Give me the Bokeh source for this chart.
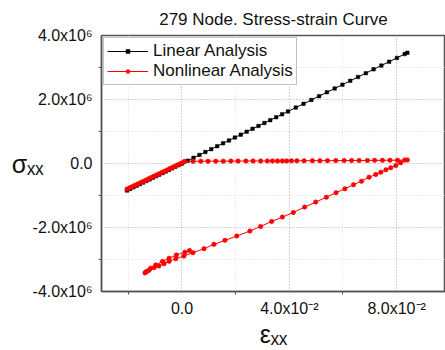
from bokeh.plotting import figure
from bokeh.models import Range1d, FixedTicker, Legend, LegendItem, LinearAxis
from bokeh.embed import file_html
from bokeh.resources import INLINE

# ---- data (strain, stress in units of 1e6) ----
lin_strain = [-0.0205, -0.0193, -0.0181, -0.0169, -0.0157, -0.0145, -0.0133, -0.0121,
              -0.0109, -0.0097, -0.0085, -0.0073, -0.0061, -0.0049, -0.0037, -0.0025,
              -0.0013, -0.0001, 0.0021, 0.0043, 0.0065, 0.0087, 0.0109, 0.0131, 0.0153,
              0.0175, 0.0197, 0.0219, 0.0241, 0.0263, 0.0285, 0.0307, 0.0329, 0.0351,
              0.0373, 0.0395, 0.0424, 0.0453, 0.0482, 0.0511, 0.0540, 0.0569, 0.0598,
              0.0627, 0.0656, 0.0685, 0.0714, 0.0743, 0.0772, 0.0801, 0.0830, 0.0840]
lin_stress_e6 = [-0.845, -0.795, -0.746, -0.696, -0.647, -0.597, -0.548, -0.499,
                 -0.449, -0.400, -0.350, -0.301, -0.251, -0.202, -0.152, -0.103,
                 -0.054, -0.004, 0.087, 0.177, 0.268, 0.358, 0.449, 0.540, 0.630,
                 0.721, 0.812, 0.902, 0.993, 1.084, 1.174, 1.265, 1.355, 1.446,
                 1.537, 1.627, 1.747, 1.866, 1.986, 2.105, 2.225, 2.344, 2.464,
                 2.583, 2.703, 2.822, 2.942, 3.061, 3.181, 3.300, 3.420, 3.461]

non_strain = [
    # initial elastic branch
    -0.0205, -0.0195, -0.0185, -0.0175, -0.0165, -0.0155, -0.0145, -0.0135, -0.0125,
    -0.0115, -0.0105, -0.0095, -0.0085, -0.0075, -0.0065, -0.0055, -0.0045, -0.0035,
    -0.0025, -0.0015, -0.0005, 0.0005,
    # plateau
    0.0010, 0.0041, 0.0070, 0.0097, 0.0126, 0.0154, 0.0182, 0.0209, 0.0238, 0.0265,
    0.0293, 0.0318, 0.0337, 0.0356, 0.0374, 0.0390, 0.0408, 0.0428, 0.0455, 0.0486,
    0.0514, 0.0542, 0.0573, 0.0604, 0.0632, 0.0660, 0.0691, 0.0718, 0.0747, 0.0775,
    0.0803, 0.0830,
    # unloading
    0.0840, 0.0815, 0.0797, 0.0778, 0.0760, 0.0741, 0.0722, 0.0697, 0.0669, 0.0639,
    0.0607, 0.0574, 0.0538, 0.0498, 0.0457, 0.0415, 0.0374, 0.0334, 0.0293, 0.0253,
    0.0204, 0.0160, 0.0119, 0.0082, 0.0041, 0.0007, -0.0023, -0.0048, -0.0067,
    -0.0086, -0.0104, -0.0123, -0.0135, -0.0138,
    # reloading
    -0.0130, -0.0117, -0.0098, -0.0073, -0.0048, -0.0021, 0.0011, 0.0028]
non_stress_e6 = [
    -0.800, -0.760, -0.720, -0.680, -0.640, -0.600, -0.560, -0.520, -0.480,
    -0.440, -0.400, -0.360, -0.320, -0.280, -0.240, -0.200, -0.160, -0.120,
    -0.080, -0.040, 0.000, 0.040,
    0.065, 0.068, 0.070, 0.072, 0.073, 0.074, 0.075, 0.076, 0.077, 0.078,
    0.079, 0.080, 0.081, 0.081, 0.082, 0.082, 0.083, 0.084, 0.085, 0.086,
    0.087, 0.088, 0.090, 0.091, 0.093, 0.094, 0.096, 0.098, 0.100, 0.102,
    0.104, 0.107,
    0.112, 0.022, -0.062, -0.134, -0.197, -0.271, -0.343, -0.427, -0.552, -0.665,
    -0.789, -0.914, -1.051, -1.207, -1.363, -1.529, -1.675, -1.810, -1.966, -2.112,
    -2.268, -2.402, -2.527, -2.661, -2.786, -2.892, -2.973, -3.058, -3.129,
    -3.204, -3.255, -3.339, -3.392, -3.420,
    -3.370, -3.270, -3.170, -3.060, -2.960, -2.860, -2.770, -2.720]

lin_stress = [v * 1e6 for v in lin_stress_e6]
non_stress = [v * 1e6 for v in non_stress_e6]

x_ticks = [0.0, 0.04, 0.08]
x_minor = [-0.02, 0.02, 0.06]
x_labels = ["0.0", "4.0x10\u207b\u00b2", "8.0x10\u207b\u00b2"]
y_ticks = [-4e6, -2e6, 0.0, 2e6, 4e6]
y_minor = [-3e6, -1e6, 1e6, 3e6]
y_labels = ["-4.0x10\u2076", "-2.0x10\u2076", "0.0", "2.0x10\u2076", "4.0x10\u2076"]
x_title = "\u03b5\u2093\u2093"
y_title = "\u03c3\u2093\u2093"

FONT = "Liberation Sans"
AX = "#555555"
TXT = "#111111"

p = figure(width=445, height=350, output_backend="svg", toolbar_location=None,
           x_range=Range1d(-0.03, 0.0982), y_range=Range1d(-4e6, 4e6),
           min_border_left=101, min_border_right=0, min_border_top=35,
           min_border_bottom=59, title="279 Node. Stress-strain Curve")
p.title.text_font = FONT
p.title.text_font_size = "17px"
p.title.text_font_style = "normal"
p.title.align = "center"
p.title.text_color = TXT
p.title.standoff = 14

p.outline_line_color = AX
p.outline_line_width = 1.5
p.background_fill_color = "white"
p.border_fill_color = "white"

p.xaxis.ticker = FixedTicker(ticks=x_ticks, minor_ticks=x_minor)
p.yaxis.ticker = FixedTicker(ticks=y_ticks, minor_ticks=y_minor)
p.xaxis.major_label_overrides = dict(zip(x_ticks, x_labels))
p.yaxis.major_label_overrides = dict(zip(y_ticks, y_labels))
for ax in (p.xaxis, p.yaxis):
    ax.axis_line_color = AX
    ax.axis_line_width = 1.5
    ax.major_tick_line_color = AX
    ax.minor_tick_line_color = AX
    ax.major_tick_in = 0
    ax.major_tick_out = 0
    ax.minor_tick_in = 0
    ax.minor_tick_out = 3
    ax.major_label_text_font = FONT
    ax.major_label_text_font_size = "16px"
    ax.major_label_text_color = TXT
p.xaxis.major_label_standoff = 5
p.yaxis.major_label_standoff = 6

# x-axis title
p.xaxis.axis_label = x_title
p.xaxis.axis_label_text_font = FONT
p.xaxis.axis_label_text_font_size = "25px"
p.xaxis.axis_label_text_font_style = "normal"
p.xaxis.axis_label_text_color = TXT
p.xaxis.axis_label_standoff = 0

# y-axis title drawn horizontally via an extra label-only axis
ylab_axis = LinearAxis(ticker=FixedTicker(ticks=[0.0]),
                       major_label_overrides={0.0: y_title},
                       axis_line_color=None, major_tick_line_color=None,
                       minor_tick_line_color=None, major_tick_in=0, major_tick_out=0,
                       major_label_standoff=-14,
                       major_label_text_font=FONT, major_label_text_font_size="25px",
                       major_label_text_color=TXT)
p.add_layout(ylab_axis, "left")

p.grid.grid_line_color = "#aaaaaa"
p.grid.grid_line_dash = "1 2"
p.grid.grid_line_width = 1
p.grid.minor_grid_line_color = "#dddddd"
p.grid.minor_grid_line_dash = "1 2"

l1 = p.line(lin_strain, lin_stress, line_color="black", line_width=1)
m1 = p.scatter(lin_strain, lin_stress, marker="square", size=3.5,
               fill_color="black", line_color="black", line_width=0.5)
l2 = p.line(non_strain, non_stress, line_color="red", line_width=1)
m2 = p.scatter(non_strain, non_stress, marker="circle", size=4.5,
               fill_color="red", line_color="red", line_width=0.5)

legend = Legend(items=[LegendItem(label="Linear Analysis", renderers=[l1, m1]),
                       LegendItem(label="Nonlinear Analysis", renderers=[l2, m2])],
                location="top_left", margin=2, padding=3, spacing=0,
                glyph_width=41, glyph_height=10, label_standoff=5,
                label_height=20,
                label_text_font=FONT, label_text_font_size="17px",
                label_text_color=TXT,
                border_line_color="#888888", border_line_width=1,
                background_fill_alpha=1.0)
p.add_layout(legend)

open("out.html", "w").write(file_html(p, INLINE))
